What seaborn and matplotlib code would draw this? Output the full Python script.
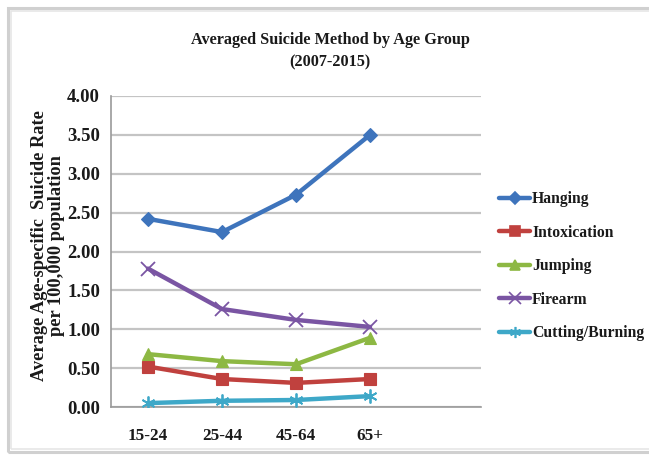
import matplotlib
matplotlib.use("Agg")
import matplotlib.pyplot as plt
import matplotlib.patches as mpatches
import seaborn as sns
import pandas as pd

# Average age-specific suicide rate per 100,000 population, 2007-2015
age_groups = ["15-24", "25-44", "45-64", "65+"]
methods = ["Hanging", "Intoxication", "Jumping", "Firearm", "Cutting/Burning"]
hanging = [2.42, 2.25, 2.73, 3.50]
intoxication = [0.52, 0.36, 0.31, 0.36]
jumping = [0.68, 0.59, 0.55, 0.89]
firearm = [1.78, 1.26, 1.12, 1.03]
cutting_burning = [0.05, 0.08, 0.09, 0.14]
y_ticks = [0.0, 0.5, 1.0, 1.5, 2.0, 2.5, 3.0, 3.5, 4.0]

series = dict(zip(methods, [hanging, intoxication, jumping, firearm, cutting_burning]))
rows = []
for m, vals in series.items():
    for i, (g, v) in enumerate(zip(age_groups, vals)):
        rows.append({"pos": i, "age": g, "method": m, "rate": v})
df = pd.DataFrame(rows)

palette = {
    "Hanging": "#3E74BC",
    "Intoxication": "#C0413E",
    "Jumping": "#8DB843",
    "Firearm": "#7A55A3",
    "Cutting/Burning": "#3EA8C8",
}
markers = {
    "Hanging": "D",
    "Intoxication": "s",
    "Jumping": "^",
    "Firearm": "x",
    "Cutting/Burning": (6, 2, 0),
}
marker_sizes = {"Hanging": 7.5, "Intoxication": 8.5, "Jumping": 8.5, "Firearm": 10, "Cutting/Burning": 10}

sns.set_theme(style="white")
plt.rcParams["font.family"] = ["Liberation Serif", "DejaVu Serif"]
plt.rcParams["font.weight"] = "bold"

W, H = 649, 455
fig = plt.figure(figsize=(W / 100, H / 100), dpi=100)
fig.patch.set_facecolor("white")

# light double frame around the chart area
fig.patches.append(mpatches.Rectangle((8 / W, 3 / H), 1.0, (447 - 3) / H,
                                      transform=fig.transFigure, fill=False,
                                      edgecolor="#D0D0D0", linewidth=2.2, zorder=0))
fig.patches.append(mpatches.Rectangle((11 / W, 6 / H), 1.0, (444 - 6) / H,
                                      transform=fig.transFigure, fill=False,
                                      edgecolor="#E6E6E6", linewidth=1.2, zorder=0))

ax = fig.add_axes([111 / W, (H - 407) / H, 370 / W, 311 / H])

for m in methods:
    sub = df[df["method"] == m]
    sns.lineplot(data=sub, x="pos", y="rate", color=palette[m], marker=markers[m],
                 markersize=marker_sizes[m], markeredgecolor=palette[m],
                 markerfacecolor=palette[m],
                 markeredgewidth=1.3 if m in ("Firearm", "Cutting/Burning") else 0.8,
                 linewidth=3.2, ax=ax, legend=False, zorder=3)

ax.set_xlim(-0.5, 4.5)
ax.set_ylim(0, 4.0)
ax.set_xticks(range(len(age_groups)))
ax.set_xticklabels(age_groups)
ax.set_yticks(y_ticks)
ax.set_yticklabels([f"{t:.2f}" for t in y_ticks])
ax.tick_params(axis="both", length=0, colors="#1A1A1A")
ax.tick_params(axis="x", pad=15, labelsize=12.3)
ax.tick_params(axis="y", pad=8, labelsize=13.5)
for lab in ax.get_xticklabels() + ax.get_yticklabels():
    lab.set_fontweight("bold")

ax.yaxis.grid(True, color="#C4C4C4", linewidth=1.6)
ax.set_axisbelow(True)
for s in ("top", "right"):
    ax.spines[s].set_visible(False)
for s in ("left", "bottom"):
    ax.spines[s].set_color("#9A9A9A")
    ax.spines[s].set_linewidth(1.2)

ax.set_xlabel("")
ax.set_ylabel("Average Age-specific  Suicide Rate\nper 100,000 population",
              fontsize=13.2, fontweight="bold", color="#1A1A1A", linespacing=1.02)
ax.yaxis.set_label_coords(-0.124, 0.52)

fig.text(330 / W, 1 - 51 / H, "Averaged Suicide Method by Age Group\n(2007-2015)",
         ha="center", va="center", fontsize=11.7, fontweight="bold",
         color="#1A1A1A", linespacing=1.55)

handles = [plt.Line2D([], [], color=palette[m], marker=markers[m], linewidth=3.2,
                      markersize=marker_sizes[m] * 0.8, markeredgecolor=palette[m],
                      markeredgewidth=1.2)
           for m in methods]
leg = fig.legend(handles, methods, loc="upper left",
                 bbox_to_anchor=(499 / W, 1 - 191 / H), frameon=False,
                 prop={"family": "Liberation Serif", "weight": "bold", "size": 11.3},
                 handlelength=2.0, handletextpad=0.1, labelspacing=1.12,
                 borderpad=0, borderaxespad=0)
for t in leg.get_texts():
    t.set_color("#1A1A1A")

fig.savefig("out.png", dpi=100, facecolor="white")
